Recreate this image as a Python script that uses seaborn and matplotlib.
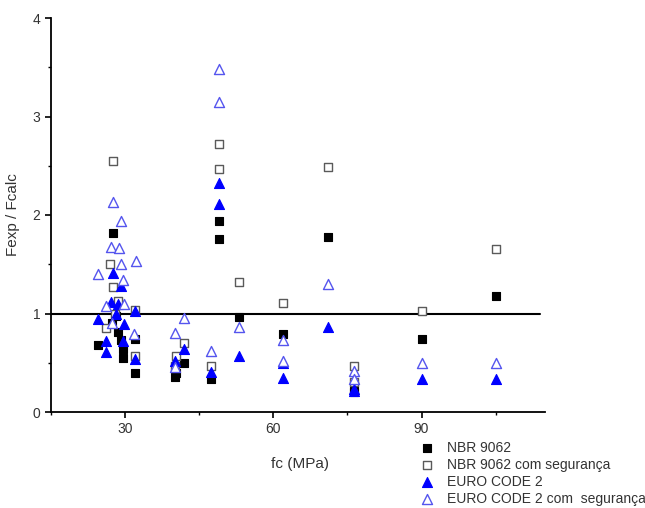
import matplotlib
matplotlib.use("Agg")
import matplotlib.pyplot as plt
import seaborn as sns
from matplotlib.ticker import MultipleLocator

# ---- data ----
nbr_x = [24.5, 27.6, 27.4, 28.6, 29.2, 29.6, 29.6, 32.0, 32.0, 28.2,
         40.0, 40.4, 42.0, 47.4, 49.0, 49.0, 53.0, 62.0, 71.0, 76.4, 76.4, 90.0, 105.0]
nbr_y = [0.68, 1.82, 0.90, 0.81, 0.73, 0.64, 0.55, 0.74, 0.40, 0.97,
         0.36, 0.40, 0.50, 0.34, 1.94, 1.76, 0.96, 0.79, 1.78, 0.22, 0.20, 0.74, 1.18]

nbrs_x = [27.6, 27.0, 27.6, 28.6, 26.1, 32.0, 32.0, 28.0,
          40.3, 40.0, 42.0, 47.4, 49.0, 49.0, 53.0, 62.0, 71.0, 76.4, 76.4, 90.0, 105.0]
nbrs_y = [2.55, 1.50, 1.27, 1.13, 0.85, 1.04, 0.57, 1.00,
          0.57, 0.47, 0.70, 0.47, 2.72, 2.47, 1.32, 1.11, 2.49, 0.47, 0.30, 1.03, 1.65]

ec_x = [24.5, 26.1, 26.1, 27.6, 29.2, 27.2, 28.6, 29.8, 29.6, 32.0, 32.0, 28.2,
        40.2, 42.0, 47.4, 49.0, 49.0, 53.0, 62.0, 62.0, 71.0, 76.4, 76.4, 90.0, 105.0]
ec_y = [0.94, 0.72, 0.61, 1.41, 1.28, 1.12, 1.10, 0.89, 0.72, 1.03, 0.54, 1.00,
        0.52, 0.64, 0.41, 2.32, 2.11, 0.57, 0.50, 0.35, 0.86, 0.23, 0.21, 0.33, 0.34]

ecs_x = [24.5, 27.6, 29.2, 27.2, 28.8, 32.2, 29.2, 29.6, 26.1, 29.8, 27.4, 31.8,
         40.0, 42.0, 40.0, 47.4, 49.0, 49.0, 53.0, 62.0, 62.0, 71.0, 76.4, 76.4, 90.0, 105.0]
ecs_y = [1.40, 2.13, 1.94, 1.68, 1.66, 1.53, 1.50, 1.34, 1.08, 1.10, 0.90, 0.79,
         0.80, 0.95, 0.46, 0.62, 3.48, 3.15, 0.86, 0.73, 0.52, 1.30, 0.42, 0.33, 0.50, 0.50]

labels = ["NBR 9062", "NBR 9062 com segurança", "EURO CODE 2", "EURO CODE 2 com  segurança"]
x_ticks = [30, 60, 90]
y_ticks = [0, 1, 2, 3, 4]

sns.set_theme(style="ticks")
plt.rcParams['font.family'] = ['Liberation Sans', 'DejaVu Sans']

fig = plt.figure(figsize=(6.45, 5.08), dpi=100)
ax = fig.add_axes([51/645, 1 - 412/508, 494/645, (412 - 18)/508])

sns.scatterplot(x=nbr_x, y=nbr_y, ax=ax, marker="s", s=36, color="black",
                edgecolor="black", linewidth=0.8, label=labels[0], zorder=3)
sns.scatterplot(x=nbrs_x, y=nbrs_y, ax=ax, marker="s", s=36, color="white",
                edgecolor="#5a5a5a", linewidth=1.0, label=labels[1], zorder=3)
sns.scatterplot(x=ec_x, y=ec_y, ax=ax, marker="^", s=52, color="#0000ff",
                edgecolor="#0000ff", linewidth=0.8, label=labels[2], zorder=3)
sns.scatterplot(x=ecs_x, y=ecs_y, ax=ax, marker="^", s=52, color="white",
                edgecolor="#5555ee", linewidth=1.0, label=labels[3], zorder=3)

ax.axhline(1.0, xmin=0, xmax=0.99, color="black", linewidth=1.5, zorder=2)

ax.set_xlim(15, 115)
ax.set_ylim(0, 4)
ax.set_xticks(x_ticks)
ax.set_yticks(y_ticks)
ax.xaxis.set_minor_locator(MultipleLocator(15))
ax.yaxis.set_minor_locator(MultipleLocator(0.5))
ax.tick_params(which="major", direction="out", length=4, width=1.2, labelsize=10,
               labelcolor="#333333", color="black")
ax.tick_params(which="minor", direction="out", length=2.5, width=1.0, color="black")
for side in ["top", "right"]:
    ax.spines[side].set_visible(False)
for side in ["left", "bottom"]:
    ax.spines[side].set_linewidth(1.3)
    ax.spines[side].set_color("black")

ax.set_xlabel("fc (MPa)", fontsize=11, color="#333333")
ax.set_ylabel("Fexp / Fcalc", fontsize=11, color="#333333")
ax.xaxis.set_label_coords((300 - 51) / 494, -(457 - 412) / 394)
ax.yaxis.set_label_coords(-(51 - 20) / 494, (412 - 215) / 394)

handles, labs = ax.get_legend_handles_labels()
ax.get_legend().remove()
fig.legend(handles, labs, loc="upper left", bbox_to_anchor=(412/645, 1 - 434/508),
           frameon=False, fontsize=10, labelspacing=0.22, handletextpad=0.8,
           borderpad=0, handlelength=1.2, labelcolor="#333333")

fig.savefig("out.png", dpi=100)
